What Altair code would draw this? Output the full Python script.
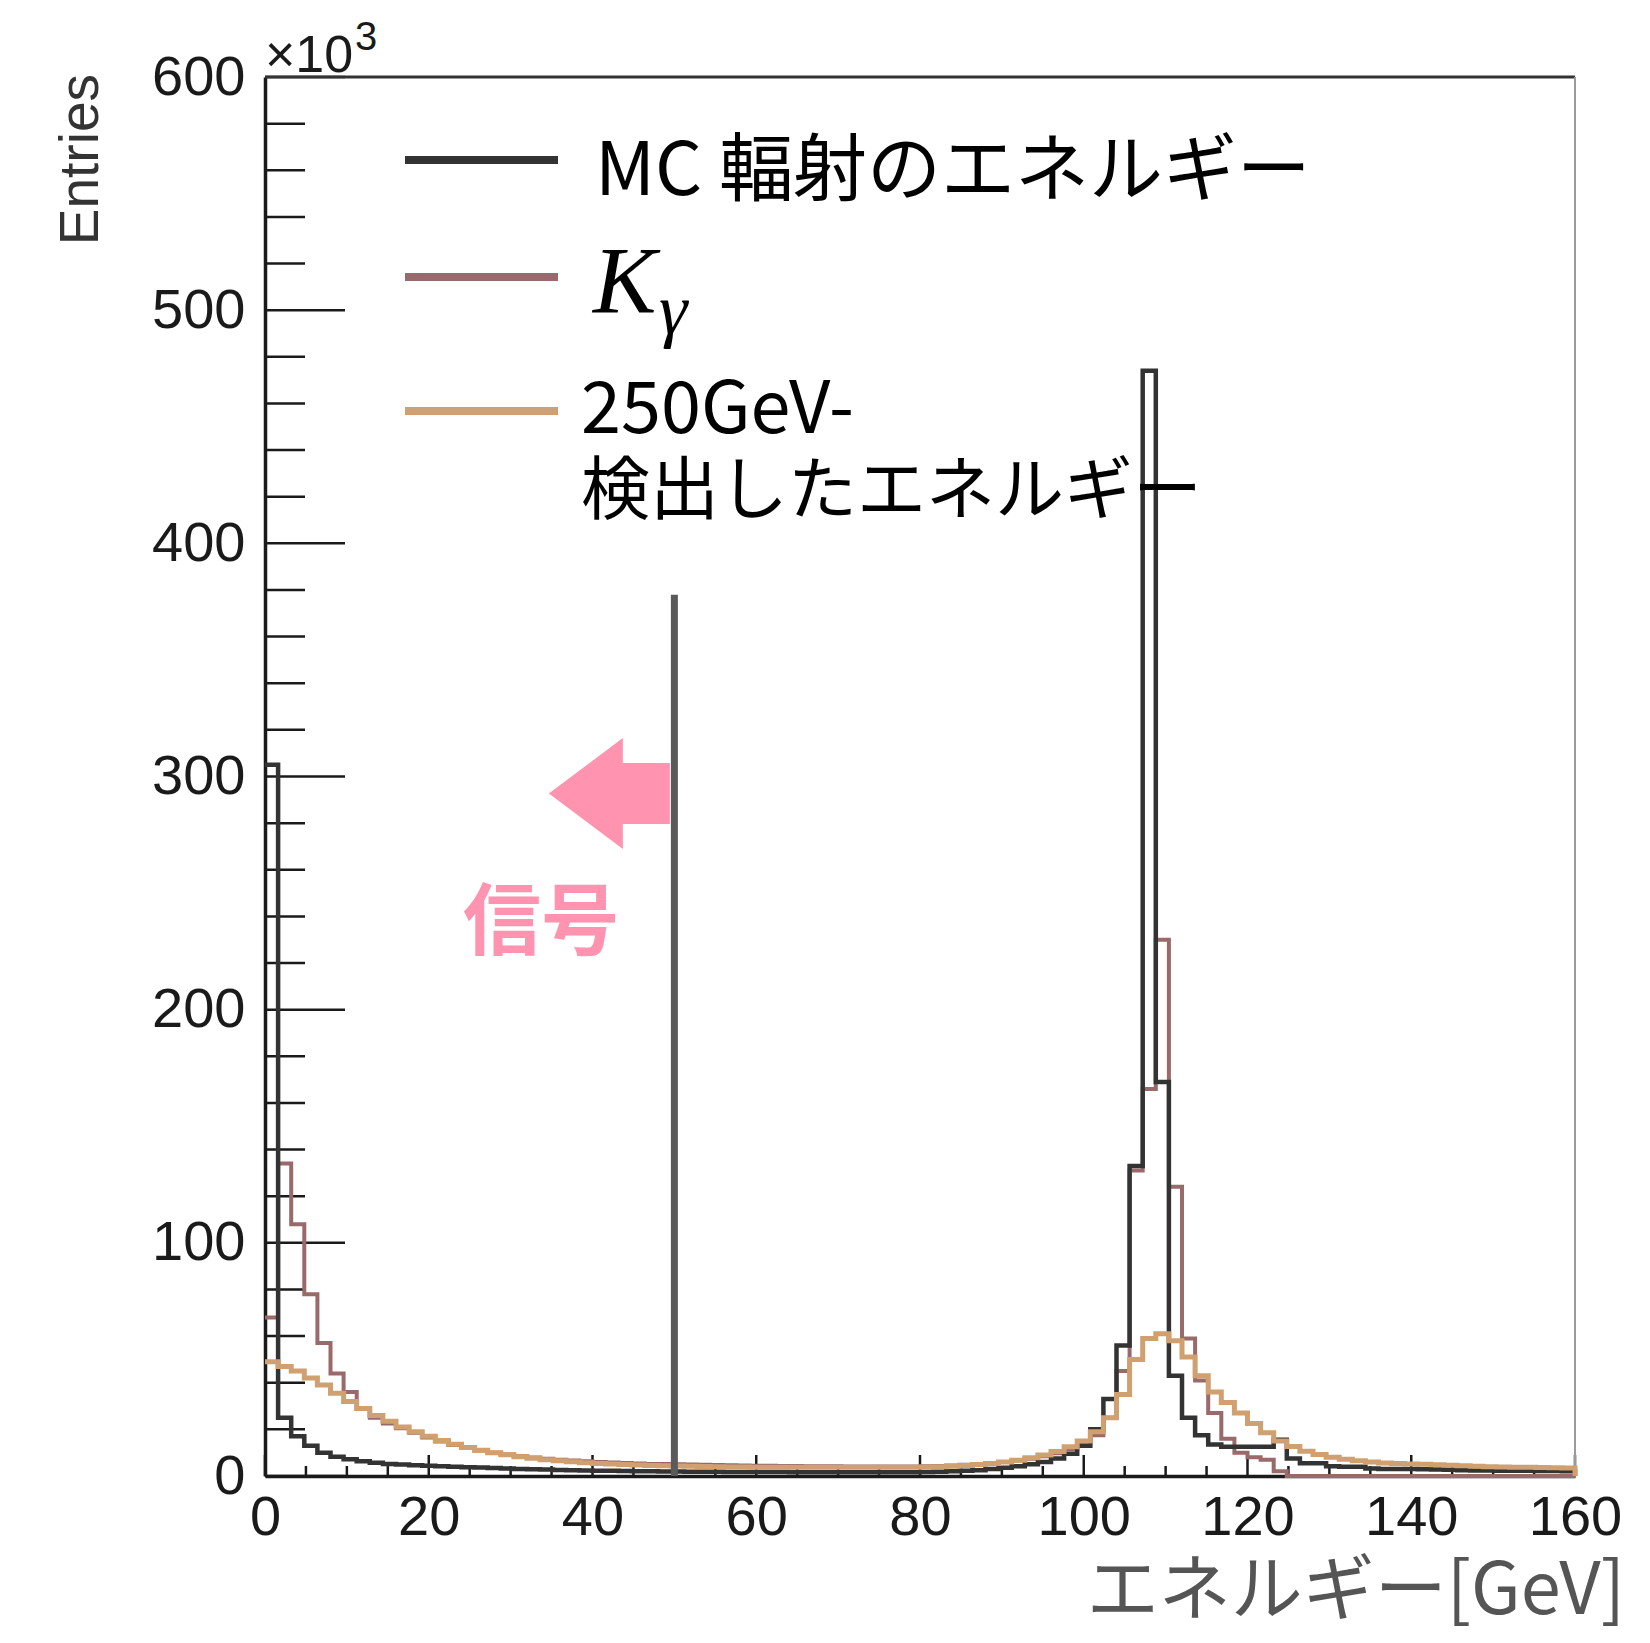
import altair as alt
import pandas as pd

BIN_WIDTH = 1.6  # GeV, 100 bins from 0 to 160

# Entries (x10^3) per bin
mc_energy = [
    305, 25, 17, 13, 10, 8.3, 7.2, 6.3, 5.7, 5.2,
    4.9, 4.6, 4.4, 4.2, 4.0, 3.8, 3.6, 3.4, 3.2, 3.0,
    2.9, 2.8, 2.6, 2.5, 2.4, 2.3, 2.2, 2.1, 2.0, 2.0,
    1.9, 1.9, 1.8, 1.8, 1.8, 1.7, 1.7, 1.7, 1.7, 1.7,
    1.6, 1.6, 1.6, 1.6, 1.6, 1.6, 1.6, 1.6, 1.6, 1.6,
    1.7, 1.8, 2.0, 2.2, 2.5, 3.0, 3.5, 4.2, 5.0, 6.0,
    7.5, 9.5, 13, 20, 33, 56, 133, 474, 169, 43,
    25, 17.5, 13.5, 12.5, 12.5, 12.5, 12.5, 15.5, 7.5, 5.5,
    5.5, 4.2, 4.0, 4.0, 3.2, 3.0, 3.0, 3.0, 2.9, 2.8,
    2.7, 2.5, 2.4, 2.4, 2.3, 2.2, 2.2, 2.1, 2.1, 2.0,
]
k_gamma = [
    68, 134, 108, 78, 57, 44, 36, 29, 25, 22.5,
    20.5, 18.5, 16.5, 14.8, 13.3, 12.0, 10.9, 10.0, 9.2, 8.5,
    7.9, 7.4, 7.0, 6.6, 6.3, 6.0, 5.8, 5.6, 5.4, 5.2,
    5.1, 5.0, 4.9, 4.8, 4.7, 4.6, 4.5, 4.4, 4.4, 4.3,
    4.3, 4.2, 4.2, 4.2, 4.1, 4.1, 4.1, 4.1, 4.1, 4.1,
    4.2, 4.3, 4.5, 4.8, 5.1, 5.5, 6.0, 6.6, 7.4, 8.5,
    9.8, 11.5, 14, 17.5, 25, 45, 131, 166, 230, 124,
    59, 41, 27, 16, 10, 8, 7, 2, 0, 0,
    0, 0, 0, 0, 0, 0, 0, 0, 0, 0,
    0, 0, 0, 0, 0, 0, 0, 0, 0, 0,
]
detected = [
    49, 47, 45, 42, 39, 35.5, 32, 29, 26, 23.5,
    21, 19, 17, 15.2, 13.6, 12.2, 11, 10, 9.1, 8.3,
    7.6, 7.0, 6.5, 6.1, 5.7, 5.4, 5.1, 4.9, 4.7, 4.5,
    4.4, 4.3, 4.2, 4.1, 4.0, 3.9, 3.9, 3.8, 3.8, 3.8,
    3.7, 3.7, 3.7, 3.7, 3.7, 3.8, 3.8, 3.8, 3.8, 3.8,
    3.9, 4.0, 4.2, 4.5, 4.9, 5.4, 6.0, 6.8, 7.8, 9.0,
    10.5, 12.5, 15, 19, 25, 35, 50, 59, 61, 58,
    51, 43, 36, 31.5, 27, 22.5, 18.5, 15, 12.6, 10.6,
    9.2, 8.0, 7.2, 6.5, 6.0, 5.6, 5.4, 5.2, 5.0, 4.8,
    4.6, 4.4, 4.2, 4.0, 3.9, 3.8, 3.7, 3.6, 3.5, 3.4,
]

series_names = ["MC 輻射のエネルギー", "Kγ", "250GeV-検出したエネルギー"]
cut_energy = [50]
cut_height = [378]
signal_label = ["信号"]
signal_pos = [33.7, 235.8]
arrow_pos = [42.06, 292.7]

y_major = list(range(0, 601, 100))
y_minor = [v for v in range(0, 601, 20) if v % 100]
x_major = list(range(0, 161, 20))
x_minor = [v for v in range(0, 161, 5) if v % 20]

W, H = 1310, 1399
PINK = "#ff93b0"
CJK = "Noto Sans CJK JP"
LAT = "Liberation Sans"

xs = alt.Scale(domain=[0, 160], nice=False, zero=False)
ys = alt.Scale(domain=[0, 600], nice=False, zero=False)
xaxis = alt.Axis(values=x_major, ticks=False, grid=False, domainColor="#1a1a1a",
                 domainWidth=3.5, labelFont=LAT, labelFontSize=56, labelColor="#1a1a1a",
                 labelPadding=14, labelFlush=False, labelOverlap=False, title=None, format="d")
yaxis = alt.Axis(values=y_major, ticks=False, grid=False, domainColor="#1a1a1a",
                 domainWidth=3.5, labelFont=LAT, labelFontSize=56, labelColor="#1a1a1a",
                 labelPadding=20, labelFlush=False, labelOverlap=False, title=None, format="d")


def X(f):
    return alt.X(f, type="quantitative", scale=xs, axis=xaxis)


def Y(f):
    return alt.Y(f, type="quantitative", scale=ys, axis=yaxis)


def step_frame(values):
    rows = [{"x": i * BIN_WIDTH, "y": v, "idx": i} for i, v in enumerate(values)]
    n = len(values)
    rows.append({"x": n * BIN_WIDTH, "y": values[-1], "idx": n})
    rows.append({"x": n * BIN_WIDTH, "y": 0, "idx": n + 1})
    return pd.DataFrame(rows)


def hist(values, color, width):
    return alt.Chart(step_frame(values)).mark_line(
        interpolate="step-after", color=color, strokeWidth=width,
        strokeJoin="miter", strokeCap="butt"
    ).encode(x=X("x"), y=Y("y"), order=alt.Order("idx:Q"))


def text(t, **kw):
    return alt.Chart(pd.DataFrame({"t": [t]})).mark_text(**kw).encode(text="t:N")


# ticks (inside, ROOT style)
ymaj = alt.Chart(pd.DataFrame({"v": y_major})).mark_rule(color="#1a1a1a", strokeWidth=2.5).encode(
    y=Y("v"), x=alt.value(0), x2=alt.value(80))
ymin = alt.Chart(pd.DataFrame({"v": y_minor})).mark_rule(color="#1a1a1a", strokeWidth=2.5).encode(
    y=Y("v"), x=alt.value(0), x2=alt.value(40))
xmaj = alt.Chart(pd.DataFrame({"v": x_major})).mark_rule(color="#1a1a1a", strokeWidth=2.5).encode(
    x=X("v"), y=alt.value(H), y2=alt.value(H - 21))
xmin = alt.Chart(pd.DataFrame({"v": x_minor})).mark_rule(color="#1a1a1a", strokeWidth=2.5).encode(
    x=X("v"), y=alt.value(H), y2=alt.value(H - 10))

frame_top = alt.Chart(pd.DataFrame({"v": [600]})).mark_rule(color="#333333", strokeWidth=3).encode(
    y=Y("v"), x=alt.value(0), x2=alt.value(W))
frame_right = alt.Chart(pd.DataFrame({"v": [160]})).mark_rule(color="#9a9a9a", strokeWidth=2).encode(
    x=X("v"), y=alt.value(0), y2=alt.value(H))

h_brown = hist(k_gamma, "#9a6a6a", 4)
h_black = hist(mc_energy, "#333333", 4.5)
h_tan = hist(detected, "#d0a070", 5)

cut = alt.Chart(pd.DataFrame({"x": cut_energy, "y0": [0], "y1": cut_height})).mark_rule(
    color="#5a5a5a", strokeWidth=7, strokeCap="butt").encode(x=X("x"), y=Y("y0"), y2="y1:Q")

arrow_path = ("M-1,0L0.223,-0.917L0.223,-0.504L1,-0.504L1,0.504L0.223,0.504L0.223,0.917Z")
arrow = alt.Chart(pd.DataFrame({"x": [arrow_pos[0]], "y": [arrow_pos[1]]})).mark_point(
    shape=arrow_path, size=14641, filled=True, color=PINK, opacity=1, strokeWidth=0
).encode(x=X("x"), y=Y("y"))

signal = alt.Chart(pd.DataFrame({"x": [signal_pos[0]], "y": [signal_pos[1]], "t": signal_label})).mark_text(
    font=CJK, fontSize=78, fontWeight="bold", color=PINK, align="center", baseline="middle"
).encode(x=X("x"), y=Y("y"), text="t:N")

# axis decorations
times10 = text("×10", font=LAT, fontSize=52, color="#1a1a1a", align="left", baseline="alphabetic"
               ).encode(x=alt.value(0), y=alt.value(-5))
exp3 = text("3", font=LAT, fontSize=40, color="#1a1a1a", align="left", baseline="alphabetic"
            ).encode(x=alt.value(90), y=alt.value(-27))
ytitle = text("Entries", font=LAT, fontSize=55, color="#333333", align="right", baseline="middle",
              angle=270).encode(x=alt.value(-184), y=alt.value(-3))
xtitle = text("エネルギー[GeV]", font=CJK, fontSize=72, color="#555555", align="right",
              baseline="alphabetic").encode(x=alt.value(1360), y=alt.value(1537))

# legend
leg_colors = ["#333333", "#976b6b", "#cfa074"]
leg_y = [83, 200, 334]
leg_lines = [
    alt.Chart(pd.DataFrame({"s": [series_names[i]]})).mark_rule(
        color=leg_colors[i], strokeWidth=8, strokeCap="butt").encode(
        x=alt.value(140), x2=alt.value(293), y=alt.value(leg_y[i]))
    for i in range(3)
]
leg1 = text("MC 輻射のエネルギー", font=CJK, fontSize=74, color="#000000", align="left",
            baseline="alphabetic").encode(x=alt.value(330), y=alt.value(118))
legK = text("K", font="Liberation Serif", fontSize=95, fontStyle="italic", color="#000000",
            align="left", baseline="alphabetic").encode(x=alt.value(328), y=alt.value(236))
legG = text("γ", font="Liberation Serif", fontSize=72, fontStyle="italic", color="#000000",
            align="left", baseline="alphabetic").encode(x=alt.value(394), y=alt.value(257))
leg3a = text("250GeV-", font=CJK, fontSize=72, color="#000000", align="left",
             baseline="alphabetic").encode(x=alt.value(316), y=alt.value(356))
leg3b = text("検出したエネルギー", font=CJK, fontSize=69, color="#000000", align="left",
             baseline="alphabetic").encode(x=alt.value(316), y=alt.value(437))

chart = alt.layer(
    ymaj, ymin, xmaj, xmin, frame_top, frame_right,
    h_brown, h_black, h_tan, cut, arrow, signal,
    times10, exp3, ytitle, xtitle,
    *leg_lines, leg1, legK, legG, leg3a, leg3b,
).properties(
    width=W, height=H,
    padding={"left": 257, "top": 69, "right": 67, "bottom": 159},
    autosize=alt.AutoSizeParams(type="none"),
).configure_view(stroke=None).configure(background="white")

chart.save("out.html", embed_options={"renderer": "svg", "actions": False})
